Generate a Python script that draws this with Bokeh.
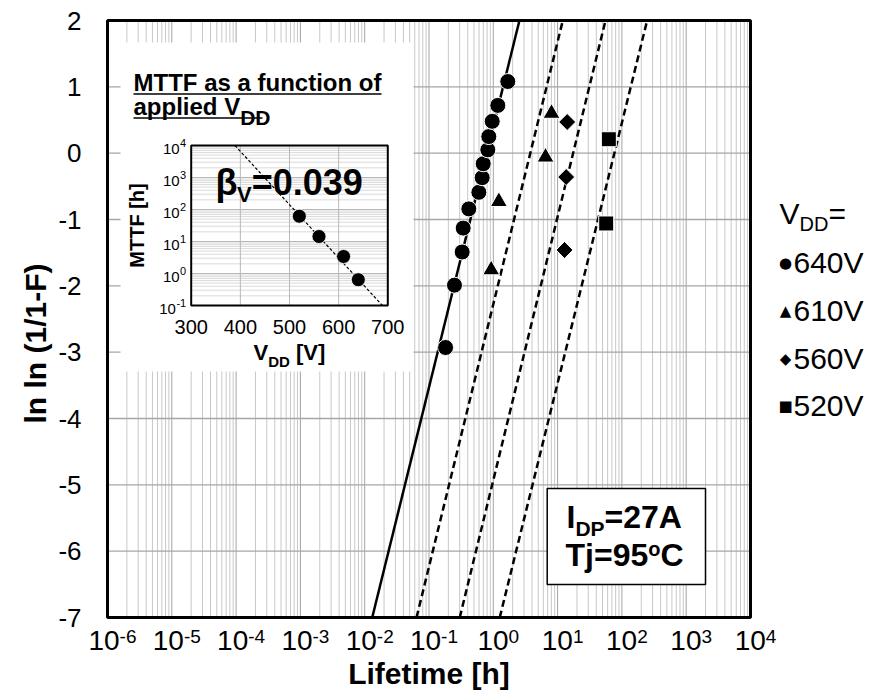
import math
from bokeh.plotting import figure
from bokeh.models import Range1d, LogScale, LinearScale, Label
from bokeh.embed import file_html
from bokeh.resources import INLINE

# ---------------- data ----------------
series_names = ["640V", "610V", "560V", "520V"]
t_640 = [0.181, 0.249, 0.328, 0.340, 0.416, 0.596, 0.671, 0.697, 0.822, 0.851, 0.962, 1.175, 1.68]
y_640 = [-2.93, -1.99, -1.49, -1.13, -0.84, -0.59, -0.37, -0.16, 0.05, 0.25, 0.48, 0.72, 1.08]
t_610 = [0.927, 1.22, 6.49, 8.04]
y_610 = [-1.76, -0.73, -0.06, 0.60]
t_560 = [12.8, 13.6, 14.1]
y_560 = [-1.46, -0.36, 0.47]
t_520 = [57.0, 62.7]
y_520 = [-1.06, 0.21]

# Weibull fit lines: lifetime where each fit crosses the bottom / top of the plot
fit_y = [-7, 2]
fit_t_640 = [0.0131, 2.55]
fit_t_610 = [0.0640, 12.05]
fit_t_560 = [0.301, 55.6]
fit_t_520 = [1.26, 247.0]

# inset: MTTF vs VDD
inset_vdd = [520, 560, 610, 640]
inset_mttf = [61.6, 14.3, 3.4, 0.64]
inset_fit_vdd = [389, 689]
inset_fit_mttf = [1e4, 0.1]

x_tick_exps = [-6, -5, -4, -3, -2, -1, 0, 1, 2, 3, 4]
y_ticks = [-7, -6, -5, -4, -3, -2, -1, 0, 1, 2]
inset_x_ticks = [300, 400, 500, 600, 700]
inset_y_exps = [-1, 0, 1, 2, 3, 4]

# ---------------- layout constants ----------------
FONT = "Liberation Sans"
W, H = 881, 692
ML, MR, MT, MB = 107, 750, 20, 617           # main plot area in page pixels
IL, IR, IT, IB = 190.7, 387.3, 145.0, 305.0   # inset plot area in page pixels
XMIN, XMAX = 10.0 ** x_tick_exps[0], 10.0 ** x_tick_exps[-1]
YMIN, YMAX = y_ticks[0], y_ticks[-1]
NDEC = x_tick_exps[-1] - x_tick_exps[0]
DEC_PX = (MR - ML) / NDEC
UNIT_PX = (MB - MT) / (YMAX - YMIN)


def px_x(px):
    return 10 ** (x_tick_exps[0] + (px - ML) / DEC_PX)


def px_y(py):
    return YMAX - (py - MT) / UNIT_PX


AR = {' ': 278, '-': 333, '.': 278, '=': 584, '[': 278, ']': 278, 'V': 667, 'D': 722}
ARB = {' ': 278, '-': 333, '.': 278, '=': 584, '[': 333, ']': 333, '(': 333, ')': 333, '/': 278,
       'A': 722, 'C': 722, 'D': 722, 'F': 611, 'I': 278, 'M': 833, 'P': 667, 'T': 611, 'V': 667,
       'a': 556, 'c': 556, 'd': 611, 'e': 556, 'f': 333, 'h': 611, 'i': 278, 'j': 278, 'l': 278,
       'm': 889, 'n': 611, 'o': 611, 'p': 611, 's': 556, 't': 333, 'u': 611, 'L': 611, 'β': 600}


def tw(s, size, bold=False):
    tab = ARB if bold else AR
    return sum(tab.get(c, 556) for c in s) * size / 1000.0


# the frame covers the whole page; the main plot area is mapped into it
p = figure(width=W, height=H, x_axis_type="log",
           x_range=Range1d(px_x(0), px_x(W)), y_range=Range1d(px_y(H), px_y(0)),
           x_axis_location=None, y_axis_location=None,
           output_backend="svg", toolbar_location=None, min_border=0)
p.background_fill_color = "white"
p.border_fill_color = "white"
p.outline_line_color = None
p.grid.visible = False


def txt(x, y, s, size, bold=False, align="left", xo=0, yo=0, angle=0.0, font=FONT, **kw):
    p.add_layout(Label(x=x, y=y, text=s, text_font=font, text_font_size=f"{size}px",
                       text_font_style="bold" if bold else "normal", text_align=align,
                       text_baseline="middle", x_offset=xo, y_offset=yo, angle=angle,
                       text_color="black", **kw))


def rich(parts, x0, base):
    """parts placed left to right from page pixel x0; base = baseline (page px)"""
    x = x0
    for s, size, dy, bold in parts:
        txt(px_x(x), px_y(base + dy - 0.35 * size), s, size, bold)
        x += tw(s, size, bold)
    return x


# ---------------- main grid ----------------
minor_x = [m * 10.0 ** k for k in x_tick_exps[:-1] for m in range(2, 10)]
p.multi_line([[v, v] for v in minor_x], [[YMIN, YMAX]] * len(minor_x),
             line_color="#c8c8c8", line_width=1)
major_x = [10.0 ** k for k in x_tick_exps[1:-1]]
p.multi_line([[v, v] for v in major_x], [[YMIN, YMAX]] * len(major_x),
             line_color="#a3a3a3", line_width=1)
p.multi_line([[XMIN, XMAX]] * (len(y_ticks) - 2), [[v, v] for v in y_ticks[1:-1]],
             line_color="#a6a6a6", line_width=1.3)

# fit lines
for ft, dash in zip([fit_t_640, fit_t_610, fit_t_560, fit_t_520], ["solid", "7 4", "7 4", "7 4"]):
    p.line(ft, fit_y, line_color="black", line_width=2.5, line_dash=dash)

# data points
p.scatter(t_640, y_640, marker="circle", size=16, fill_color="black", line_color="white", line_width=1)
p.scatter(t_610, y_610, marker="triangle", size=17, fill_color="black", line_color="white", line_width=1)
p.scatter(t_560, y_560, marker="square", angle=math.pi / 4, size=12, fill_color="black",
          line_color="white", line_width=1)
p.scatter(t_520, y_520, marker="square", size=15, fill_color="black", line_color="white", line_width=1)

# ---------------- inset ----------------
p.quad(left=px_x(120), right=px_x(413), top=px_y(42), bottom=px_y(371),
       fill_color="white", line_color=None)

sx = (inset_x_ticks[-1] - inset_x_ticks[0]) / (IR - IL)
dpp = (inset_y_exps[-1] - inset_y_exps[0]) / (IB - IT)
p.extra_x_ranges = {"inset": Range1d(inset_x_ticks[0] - IL * sx, inset_x_ticks[-1] + (W - IR) * sx)}
p.extra_y_ranges = {"inset": Range1d(10 ** (inset_y_exps[0] - (H - IB) * dpp),
                                     10 ** (inset_y_exps[-1] + IT * dpp))}
p.extra_x_scales = {"inset": LinearScale()}
p.extra_y_scales = {"inset": LogScale()}
IN = dict(x_range_name="inset", y_range_name="inset")

ylo, yhi = 10.0 ** inset_y_exps[0], 10.0 ** inset_y_exps[-1]
xlo, xhi = inset_x_ticks[0], inset_x_ticks[-1]
minor_y = [m * 10.0 ** k for k in inset_y_exps[:-1] for m in range(2, 10)]
p.multi_line([[xlo, xhi]] * len(minor_y), [[v, v] for v in minor_y],
             line_color="#dadada", line_width=1, **IN)
major_y = [10.0 ** k for k in inset_y_exps[1:-1]]
p.multi_line([[xlo, xhi]] * len(major_y), [[v, v] for v in major_y],
             line_color="#b8b8b8", line_width=1, **IN)
p.multi_line([[v, v] for v in inset_x_ticks[1:-1]], [[ylo, yhi]] * (len(inset_x_ticks) - 2),
             line_color="#b8b8b8", line_width=1, **IN)
p.quad(left=xlo, right=xhi, bottom=ylo, top=yhi, fill_color=None,
       line_color="black", line_width=2, **IN)
p.line(inset_fit_vdd, inset_fit_mttf, line_color="black", line_width=1.2, line_dash="3 2", **IN)
p.scatter(inset_vdd, inset_mttf, marker="circle", size=14, fill_color="black", line_color="white",
          line_width=0.8, **IN)

for k in inset_y_exps:
    e = str(k)
    ew = tw(e, 11)
    txt(xlo, 10.0 ** k, "10", 15, align="right", xo=-(ew + 5.5), yo=-3, **IN)
    txt(xlo, 10.0 ** k, e, 11, align="left", xo=-(ew + 5.0), yo=3, **IN)
for v in inset_x_ticks:
    txt(v, ylo, str(v), 20, align="center", yo=-21, **IN)

txt(px_x(136), px_y((IT + IB) / 2), "MTTF [h]", 20, bold=True, align="center", angle=math.pi / 2)
rich([("V", 22, 0, True), ("DD", 15, 6, True)], 253, 360)
rich([("[V]", 22, 0, True)], 253 + tw("V", 22, True) + tw("DD", 15, True) + tw(" ", 22, True), 360)

# inset title with underline
end1 = rich([("MTTF as a function of", 24, 0, True)], 133, 90)
rich([("applied V", 24, 0, True), ("DD", 21, 10, True)], 133, 114)
p.segment(x0=[px_x(133), px_x(133)], y0=[px_y(93.5), px_y(117.5)],
          x1=[px_x(end1), px_x(262)], y1=[px_y(93.5), px_y(117.5)],
          line_color="black", line_width=1.5)

rich([("β", 36, 0, True), ("V", 22, 7, True), ("=0.039", 36, 0, True)], 215, 195)

# ---------------- condition box ----------------
p.quad(left=px_x(546.7), right=px_x(705), top=px_y(488), bottom=px_y(584),
       fill_color="white", line_color="black", line_width=1.5)
rich([("I", 32, 0, True), ("DP", 21, 7, True), ("=27A", 32, 0, True)], 566, 528)
rich([("Tj=95", 32, 0, True), ("o", 20, -11, True), ("C", 32, 0, True)], 565, 566)

# main plot frame
p.quad(left=XMIN, right=XMAX, bottom=YMIN, top=YMAX, fill_color=None,
       line_color="black", line_width=3)

# ---------------- tick labels and axis titles ----------------
for k in x_tick_exps:
    e = str(k)
    bw = tw("10", 28)
    total = bw + tw(e, 19)
    off = -total / 2 + 5
    txt(10.0 ** k, YMIN, "10", 28, xo=off, yo=-23)
    txt(10.0 ** k, YMIN, e, 19, xo=off + bw, yo=-18.5)
for v in y_ticks:
    txt(XMIN, v, str(v), 26, align="right", xo=-26)

txt(math.sqrt(XMIN * XMAX), YMIN, "Lifetime [h]", 30, bold=True, align="center", yo=-56)
txt(XMIN, px_y(343), "ln ln (1/1-F)", 30, bold=True, align="center", xo=-72, angle=math.pi / 2)

# ---------------- legend (right side) ----------------
rich([("V", 30, 0, False), ("DD", 20, 7, False), ("=", 30, 0, False)], 779, 223)
legend_marks = ["●", "▲", "◆", "■"]
legend_centers = [262, 310, 358, 405]
for name, mk, cy in zip(series_names, legend_marks, legend_centers):
    txt(px_x(785), px_y(cy), mk, 15, align="center", font="DejaVu Sans")
    txt(px_x(793), px_y(cy), name, 30)

open("out.html", "w").write(file_html(p, INLINE))
